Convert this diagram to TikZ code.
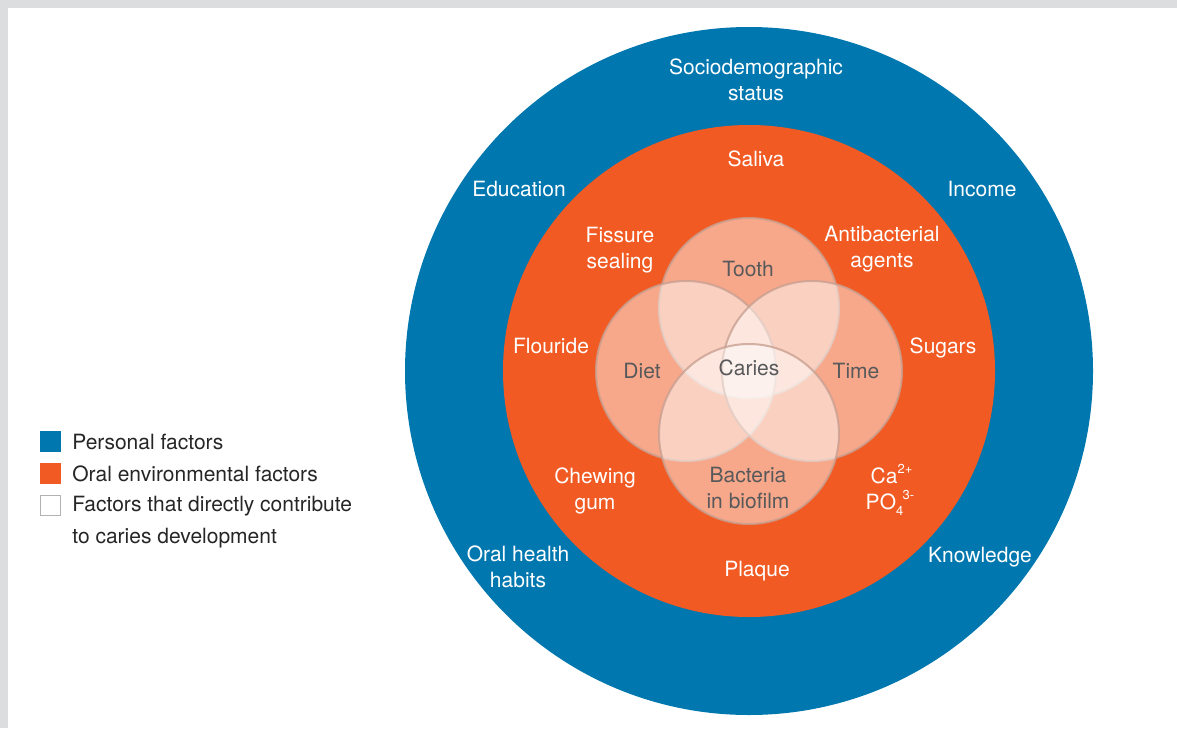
\documentclass[tikz,border=0pt]{standalone}
\usepackage{fontspec}
\setmainfont{TeX Gyre Heros}
\usepackage{xcolor}
\usepackage{tikz}
\usetikzlibrary{matrix}

\definecolor{personal}{RGB}{0,119,175}
\definecolor{oral}{RGB}{241,90,34}
\definecolor{frame}{RGB}{220,221,223}
\definecolor{vennline}{RGB}{200,160,145}
\definecolor{venntext}{RGB}{88,89,91}

\newcommand{\ionsup}[1]{\raisebox{0.9ex}{\fontsize{6.5}{6.5}\selectfont #1}}
\newcommand{\ionsub}[1]{\raisebox{-0.55ex}{\fontsize{6.5}{6.5}\selectfont #1}}

\tikzset{
  lbl/.style={text=white, align=center, inner sep=0pt, font=\fontsize{10.5}{13}\selectfont},
  vlbl/.style={lbl, text=venntext},
  venn/.style={fill=white, fill opacity=0.47, draw=vennline, draw opacity=0.8, line width=1pt}
}

\begin{document}
\begin{tikzpicture}[x=0.5pt, y=-0.5pt]
	\useasboundingbox (0,0) rectangle (1177,728);
	\fill[frame] (0,0) rectangle (1177,8);
	\fill[frame] (0,0) rectangle (8,728);
	\coordinate (c) at (749,371);
	% rings
	\fill[personal] (c) circle[radius=172pt];
	\fill[oral] (c) circle[radius=123pt];
	\foreach \a in {90,180,0,270}
		\path[venn, shift={(c)}] (\a:31.5pt) circle[radius=45pt];
	% personal factors
	\node[lbl] (soc) at (756,80) {Sociodemographic\\status};
	\node[lbl] (edu) at (519,189) {Education};
	\node[lbl] (inc) at (982,189) {Income};
	\node[lbl] (oralh) at (518,567) {Oral health\\habits};
	\node[lbl] (know) at (980,557) {Knowledge};
	% oral environmental factors
	\node[lbl] (sal) at (756,159) {Saliva};
	\node[lbl] (fis) at (620,250) {Fissure\\sealing};
	\node[lbl] (anti) at (882,249) {Antibacterial\\agents};
	\node[lbl] (flo) at (551,346) {Flouride};
	\node[lbl] (sug) at (943,348) {Sugars};
	\node[lbl] (chew) at (595,491) {Chewing\\gum};
	\node[lbl, align=left] (ions) at (890,490) {\hspace{2.5pt}Ca\ionsup{2+}\\PO\ionsub{4}\kern-0.3pt\ionsup{3-}};
	\node[lbl] (plaq) at (757,571) {Plaque};
	% direct factors
	\node[vlbl] (tooth) at (748,269) {Tooth};
	\node[vlbl] (diet) at (642,371) {Diet};
	\node[vlbl] (caries) at (749,368) {Caries};
	\node[vlbl] (time) at (856,371) {Time};
	\node[vlbl] (bact) at (748,488) {Bacteria\\in biofilm};
	% legend
	\matrix(leg)[matrix of nodes, anchor=north west, inner sep=0pt, row sep=0pt, column sep=5.5pt,
		nodes={anchor=center, inner sep=0pt},
		column 1/.style={nodes={minimum size=10.5pt}},
		column 2/.style={nodes={anchor=west, minimum height=16pt, text=black!85, font=\fontsize{10.5}{13}\selectfont}}]
		at (40,425.5) {
		|[fill=personal]| & Personal factors \\
		|[fill=oral]| & Oral environmental factors \\
		|[draw=black!30, line width=0.5pt, minimum size=10pt]| & Factors that directly contribute \\
		& to caries development \\
	};
\end{tikzpicture}
\end{document}
